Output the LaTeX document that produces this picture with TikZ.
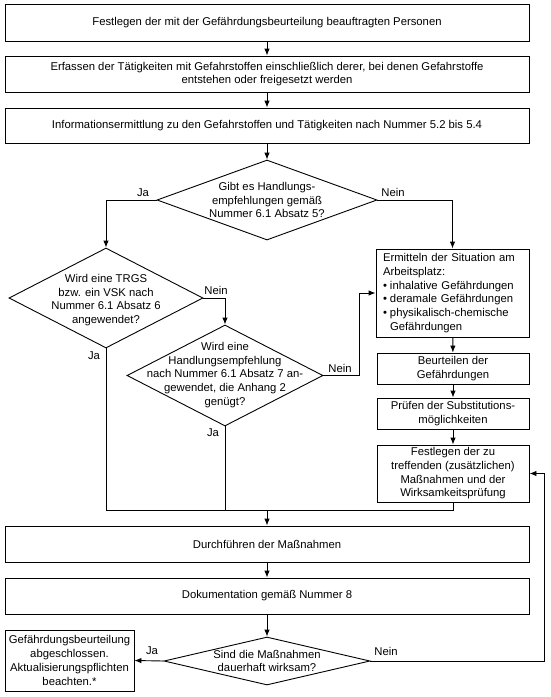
\documentclass[tikz,border=0pt]{standalone}
\usepackage{fontspec}
\setmainfont{Liberation Sans}
\usetikzlibrary{arrows.meta,shapes.geometric}
\begin{document}
\begin{tikzpicture}[x=1pt,y=-1pt,
  font=\fontsize{11.3}{13.7}\selectfont,
  line width=0.9pt,
  box/.style={draw,rectangle,inner sep=0pt,align=center},
  dia/.style={draw,diamond,inner sep=0pt},
  dtext/.style={inner sep=0pt,align=center},
  arr/.style={-{Latex[length=7pt,width=5.5pt]}},
  lbl/.style={inner sep=0pt},
]
\useasboundingbox (0,0) rectangle (551,697);

% main boxes
\node[box,minimum width=524pt,minimum height=37pt] (b1) at (267,22.5)
  {Festlegen der mit der Gefährdungsbeurteilung beauftragten Personen};
\node[box,minimum width=524pt,minimum height=36pt] (b2) at (267,74)
  {Erfassen der Tätigkeiten mit Gefahrstoffen einschließlich derer, bei denen Gefahrstoffe\\entstehen oder freigesetzt werden};
\node[box,minimum width=524pt,minimum height=35pt] (b3) at (267,125.5)
  {Informationsermittlung zu den Gefahrstoffen und Tätigkeiten nach Nummer 5.2 bis 5.4};

% diamonds
\node[dia,minimum width=220pt,minimum height=80pt] (d1) at (267,200) {};
\node[dtext] (d1t) at (d1) {Gibt es Handlungs-\\empfehlungen gemäß\\Nummer 6.1 Absatz 5?};

\node[dia,minimum width=194pt,minimum height=100pt] (d2) at (106,298) {};
\node[dtext] (d2t) at (106,300) {Wird eine TRGS\\bzw. ein VSK nach\\Nummer 6.1 Absatz 6\\angewendet?};

\node[dia,minimum width=196pt,minimum height=101pt] (d3) at (225,375.5) {};
\node[dtext] (d3t) at (225,375) {Wird eine\\Handlungsempfehlung\\nach Nummer 6.1 Absatz 7 an-\\gewendet, die Anhang 2\\genügt?};

% right column
\node[box,minimum width=153pt,minimum height=88pt,text width=139pt,align=left] (erm) at (452.5,293)
  {Ermitteln der Situation am\\Arbeitsplatz:\\
   \makebox[7pt][l]{•}inhalative Gefährdungen\\
   \makebox[7pt][l]{•}deramale Gefährdungen\\
   \makebox[7pt][l]{•}physikalisch-chemische\\
   \hspace*{7pt}Gefährdungen};
\node[box,minimum width=152pt,minimum height=31pt] (beu) at (453,368.5)
  {Beurteilen der\\Gefährdungen};
\node[box,minimum width=152pt,minimum height=31pt] (pru) at (453,413.5)
  {Prüfen der Substitutions-\\möglichkeiten};
\node[box,minimum width=152pt,minimum height=57pt] (fes) at (453,473.5)
  {Festlegen der zu\\treffenden (zusätzlichen)\\Maßnahmen und der\\Wirksamkeitsprüfung};

% lower boxes
\node[box,minimum width=524pt,minimum height=36pt] (dur) at (267,544)
  {Durchführen der Maßnahmen};
\node[box,minimum width=524pt,minimum height=36pt] (dok) at (267,596)
  {Dokumentation gemäß Nummer 8};

\node[dia,minimum width=206pt,minimum height=48pt] (d4) at (267,661) {};
\node[dtext] (d4t) at (d4) {Sind die Maßnahmen\\dauerhaft wirksam?};

\node[box,minimum width=129pt,minimum height=61pt] (end) at (69.5,660.5)
  {Gefährdungsbeurteilung\\abgeschlossen.\\Aktualisierungspflichten\\beachten.*};

% helper coordinates
\coordinate (j) at (267,510);
\coordinate (n3) at (359,375.5);
\coordinate (fb) at (544,661);

% connectors
\draw[arr] (b1) -- (b2);
\draw[arr] (b2) -- (b3);
\draw[arr] (b3) -- (d1);
\draw[arr] (d1.west) -| (d2.north);
\draw[arr] (d1.east) -| (erm.north);
\draw[arr] (d2.east) -| (d3.north);
\draw[arr] (d3.east) -- (n3) |- (erm.west);
\draw[arr] (erm) -- (beu);
\draw[arr] (beu) -- (pru);
\draw[arr] (pru) -- (fes);
\draw (d2.south) |- (j);
\draw (d3.south) -- (d3.south |- j);
\draw (fes.south) |- (j);
\draw[arr] (j) -- (dur.north);
\draw[arr] (dur) -- (dok);
\draw[arr] (dok) -- (d4);
\draw[arr] (d4.west) -- (end.east);
\draw[arr] (d4.east) -- (fb) |- (fes.east);

% labels
\node[lbl] (l1) at (143,193) {Ja};
\node[lbl] (l2) at (393,192) {Nein};
\node[lbl] (l3) at (216,290) {Nein};
\node[lbl] (l4) at (94,356) {Ja};
\node[lbl] (l5) at (340,368) {Nein};
\node[lbl] (l6) at (213,433) {Ja};
\node[lbl] (l7) at (152,651) {Ja};
\node[lbl] (l8) at (386,651) {Nein};
\end{tikzpicture}
\end{document}
